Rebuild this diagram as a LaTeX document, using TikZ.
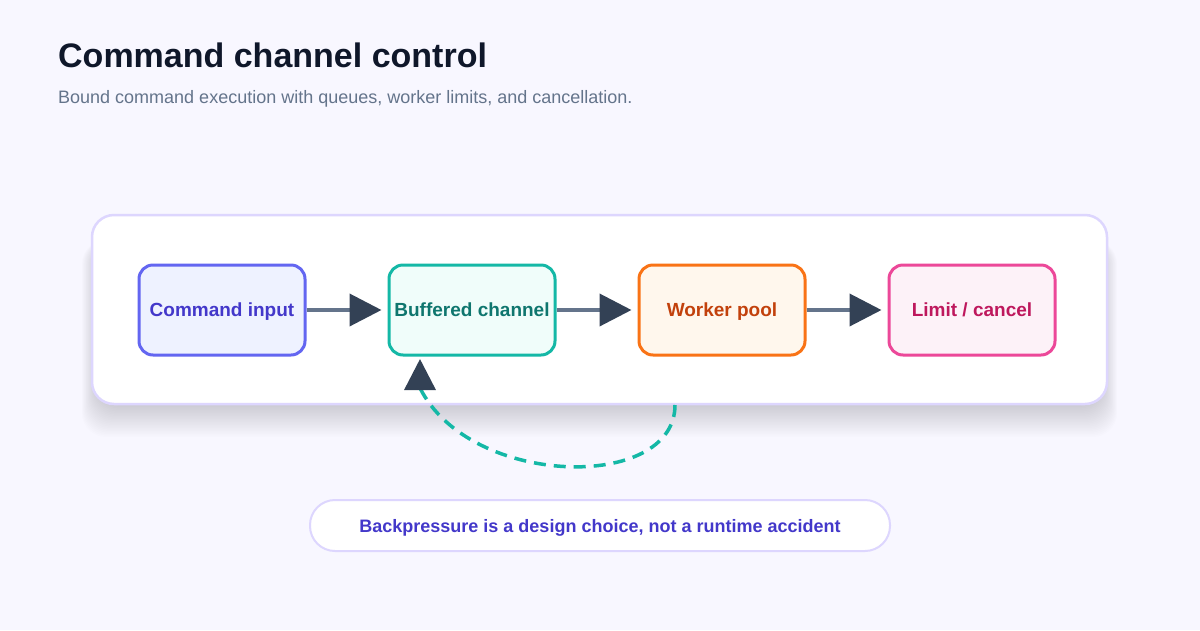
\documentclass[tikz,border=0pt]{standalone}
\usepackage{fontspec}
\setmainfont{Liberation Sans}
\usetikzlibrary{arrows.meta}
\definecolor{bg}{HTML}{F8F7FF}
\definecolor{panelborder}{HTML}{DDD6FE}
\definecolor{titlec}{HTML}{0F172A}
\definecolor{subc}{HTML}{64748B}
\definecolor{linec}{HTML}{64748B}
\definecolor{tipc}{HTML}{334155}
\definecolor{shadowc}{HTML}{2A2740}
\definecolor{indB}{HTML}{6366F1}\definecolor{indF}{HTML}{EEF2FF}\definecolor{indT}{HTML}{4338CA}
\definecolor{tealB}{HTML}{14B8A6}\definecolor{tealF}{HTML}{F0FDFA}\definecolor{tealT}{HTML}{0F766E}
\definecolor{orB}{HTML}{F97316}\definecolor{orF}{HTML}{FFF7ED}\definecolor{orT}{HTML}{C2410C}
\definecolor{pkB}{HTML}{EC4899}\definecolor{pkF}{HTML}{FDF2F8}\definecolor{pkT}{HTML}{BE185D}
\begin{document}
\begin{tikzpicture}[x=1pt,y=-1pt,
  stagebox/.style={draw, line width=3pt, rounded corners=14pt, minimum width=166pt, minimum height=90pt, inner sep=0pt, text height=13.5pt, text depth=0pt, font=\fontsize{19pt}{22pt}\selectfont\bfseries},
  flow/.style={draw=linec, line width=4pt, shorten >=6pt, -{Triangle[length=32pt,width=32pt,color=tipc]}},
  backflow/.style={draw=tealB, line width=3.5pt, dash pattern=on 12pt off 8pt, -{Triangle[length=31pt,width=31pt,color=tipc]}}
]
\useasboundingbox (0,0) rectangle (1200,630);
\fill[bg] (0,0) rectangle (1200,630);
% title
\node[anchor=base west, inner sep=0pt, text=titlec, font=\fontsize{34pt}{38pt}\selectfont\bfseries] (title) at (58,67) {Command channel control};
\node[anchor=base west, inner sep=0pt, text=subc, font=\fontsize{18pt}{21pt}\selectfont] (subtitle) at (58,103) {Bound command execution with queues, worker limits, and cancellation.};
% panel shadow
\foreach \i in {1,...,26} {
  \fill[shadowc, opacity=0.0075, rounded corners=24pt] (100-\i*0.7,240) rectangle (1099+\i*0.7,398+\i*1.5);
}
\draw[panelborder, fill=white, line width=2.5pt, rounded corners=22pt] (92,215) rectangle (1107,404);
% stages
\node[stagebox, draw=indB, fill=indF, text=indT] (ci) at (222,310) {Command input};
\node[stagebox, draw=tealB, fill=tealF, text=tealT] (bc) at (472,310) {Buffered channel};
\node[stagebox, draw=orB, fill=orF, text=orT] (wp) at (722,310) {Worker pool};
\node[stagebox, draw=pkB, fill=pkF, text=pkT] (lc) at (972,310) {Limit / cancel};
\draw[flow] (ci) -- (bc);
\draw[flow] (bc) -- (wp);
\draw[flow] (wp) -- (lc);
% backpressure loop
\coordinate (wpfoot) at (675,405);
\coordinate (bcin) at (420,359);
\draw[backflow] (wpfoot) .. controls (675,492) and (470,488) .. (420,388) -- (bcin);
% caption
\node[draw=panelborder, fill=white, line width=2pt, rounded corners=25pt, minimum width=580pt, minimum height=51pt, text=indT, text height=13pt, text depth=0pt, font=\fontsize{18pt}{21pt}\selectfont\bfseries] (cap) at (600,525.5) {Backpressure is a design choice, not a runtime accident};
\end{tikzpicture}
\end{document}
